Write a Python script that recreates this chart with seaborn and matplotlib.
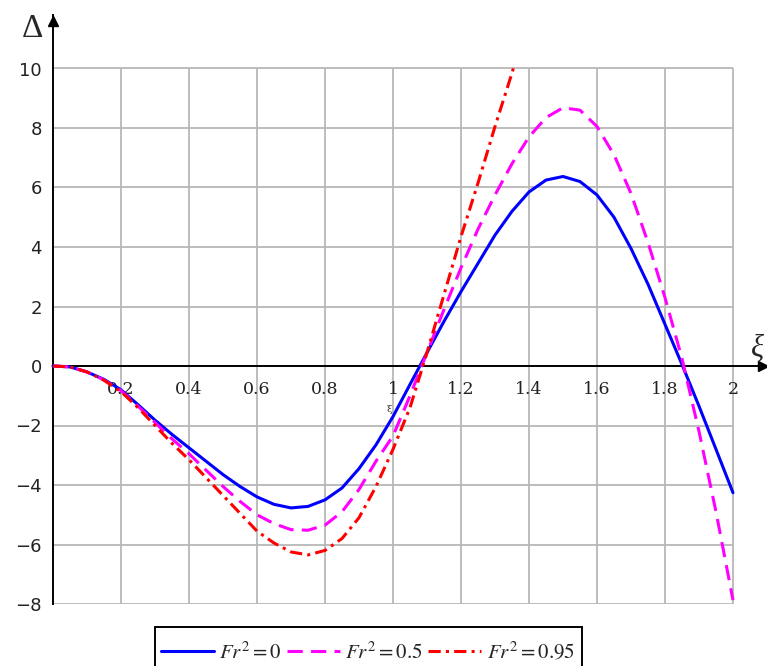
import numpy as np
import pandas as pd
import matplotlib
matplotlib.use("Agg")
import matplotlib.pyplot as plt
import matplotlib.patches as mpatches
import seaborn as sns

# Sampled curves Delta(xi) for three Froude numbers
xi = [0.00, 0.05, 0.10, 0.15, 0.20, 0.25, 0.30, 0.35, 0.40, 0.45,
      0.50, 0.55, 0.60, 0.65, 0.70, 0.75, 0.80, 0.85, 0.90, 0.95,
      1.00, 1.05, 1.10, 1.15, 1.20, 1.25, 1.30, 1.35, 1.40, 1.45,
      1.50, 1.55, 1.60, 1.65, 1.70, 1.75, 1.80, 1.85, 1.90, 1.95, 2.00]

delta_fr0 = [0.0, -0.03, -0.2, -0.45, -0.8, -1.3, -1.82, -2.3, -2.75, -3.2,
             -3.65, -4.05, -4.4, -4.65, -4.77, -4.72, -4.5, -4.1, -3.45, -2.65,
             -1.7, -0.62, 0.45, 1.5, 2.5, 3.45, 4.4, 5.2, 5.85, 6.25,
             6.37, 6.2, 5.75, 5.0, 3.95, 2.75, 1.4, 0.05, -1.35, -2.8, -4.26]

delta_fr05 = [0.0, -0.03, -0.2, -0.47, -0.83, -1.35, -1.9, -2.45, -2.95, -3.5,
              -4.05, -4.55, -5.0, -5.3, -5.5, -5.52, -5.35, -4.9, -4.15, -3.2,
              -2.35, -1.0, 0.45, 1.9, 3.3, 4.6, 5.75, 6.8, 7.7, 8.35,
              8.68, 8.6, 8.05, 7.1, 5.8, 4.15, 2.3, 0.25, -2.2, -4.9, -7.87]

xi_fr095 = [0.00, 0.05, 0.10, 0.15, 0.20, 0.25, 0.30, 0.35, 0.40, 0.45,
            0.50, 0.55, 0.60, 0.65, 0.70, 0.75, 0.80, 0.85, 0.90, 0.95,
            1.00, 1.05, 1.10, 1.15, 1.20, 1.25, 1.30, 1.35, 1.357]
delta_fr095 = [0.0, -0.03, -0.2, -0.48, -0.86, -1.4, -2.0, -2.6, -3.15, -3.75,
               -4.35, -4.95, -5.55, -5.95, -6.25, -6.35, -6.2, -5.8, -5.1, -4.05,
               -2.8, -1.4, 0.45, 2.4, 4.35, 6.15, 8.05, 9.85, 10.12]

labels = [r"$Fr^2=0$", r"$Fr^2=0.5$", r"$Fr^2=0.95$"]
x_ticks = [0.2, 0.4, 0.6, 0.8, 1.0, 1.2, 1.4, 1.6, 1.8, 2.0]
x_ticklabels = ["0.2", "0.4", "0.6", "0.8", "1", "1.2", "1.4", "1.6", "1.8", "2"]
y_ticks = [-8, -6, -4, -2, 0, 2, 4, 6, 8, 10]
y_ticklabels = ["\u22128", "\u22126", "\u22124", "\u22122", "0", "2", "4", "6", "8", "10"]

sns.set_style("white")
plt.rcParams["mathtext.fontset"] = "stix"

W, H = 767, 666
fig = plt.figure(figsize=(W / 100, H / 100), dpi=100)

# axes geometry in pixels: xi=0 at 53, 340 px per unit; Delta=0 at 366, 29.75 px per unit
x0, sx = 53.0, 340.0
y0, sy = 366.0, 29.75
xmax, ymin, ymax = 2.1, -8.0, 11.8
left = x0 / W
width = (xmax * sx) / W
bottom = (H - (y0 - ymin * sy)) / H
height = ((ymax - ymin) * sy) / H
ax = fig.add_axes([left, bottom, width, height])
ax.set_xlim(0, xmax)
ax.set_ylim(ymin, ymax)

grid_kw = dict(color="#b8b8b8", lw=1.3, zorder=0)
ax.vlines(x_ticks, -8, 10, **grid_kw)
ax.hlines(y_ticks, 0, 2, **grid_kw)

df0 = pd.DataFrame({"xi": xi, "delta": delta_fr0})
df05 = pd.DataFrame({"xi": xi, "delta": delta_fr05})
df095 = pd.DataFrame({"xi": xi_fr095, "delta": delta_fr095})

lw = 2.2
sns.lineplot(data=df0, x="xi", y="delta", ax=ax, color="#0000ff", lw=lw,
             label=labels[0], sort=False, zorder=3)
l2 = sns.lineplot(data=df05, x="xi", y="delta", ax=ax, color="#ff00ff", lw=lw,
                  label=labels[1], sort=False, zorder=3).lines[-1]
l2.set_dashes((5.0, 2.7))
l3 = sns.lineplot(data=df095, x="xi", y="delta", ax=ax, color="#ff0000", lw=lw,
                  label=labels[2], sort=False, zorder=4).lines[-1]
l3.set_dashes((4.0, 1.7, 1.0, 1.7))
for ln in ax.lines:
    ln.set_clip_on(False)
    ln.set_dash_capstyle("butt")
    ln.set_solid_joinstyle("round")

# axes through the origin with arrows
for s in ["top", "right"]:
    ax.spines[s].set_visible(False)
ax.spines["left"].set_position(("data", 0))
ax.spines["bottom"].set_position(("data", 0))
for s in ["left", "bottom"]:
    ax.spines[s].set_color("black")
    ax.spines[s].set_linewidth(1.4)
    ax.spines[s].set_zorder(2)
ax.plot(2.088, 0, marker=">", color="black", ms=7, clip_on=False, zorder=5)
ax.plot(0, ymax - 0.2, marker="^", color="black", ms=7, clip_on=False, zorder=5)

ax.set_xticks(x_ticks)
ax.set_xticklabels(x_ticklabels, family="DejaVu Serif", fontsize=12.5, color="#222222")
ax.set_yticks(y_ticks)
ax.set_yticklabels(y_ticklabels, family="DejaVu Sans", fontsize=13, color="#222222")
ax.tick_params(axis="x", direction="out", length=5, width=1.2, pad=6, colors="#222222")
ax.tick_params(axis="y", direction="out", length=6, width=1.2, pad=2, colors="#222222")
ax.set_xlabel("")
ax.set_ylabel("")

fig.text(32 / W, 1 - 29 / H, "\u0394", fontsize=24, family="Liberation Serif",
         ha="center", va="center")
fig.text(757 / W, 1 - 348 / H, "\u03be", fontsize=22, family="Liberation Serif",
         style="italic", ha="center", va="center")
ax.text(0.99, -1.45, "\u03be", fontsize=7, family="DejaVu Serif", ha="center",
        va="center", color="#333333")

# legend row with a square frame that runs past the bottom edge
ax.get_legend().remove()
handles = ax.lines[:3]
leg = fig.legend(handles, labels, loc="upper left",
                 bbox_to_anchor=(161 / W, 1 - 640 / H), ncol=3, fontsize=15,
                 frameon=False, handlelength=2.55,
                 handletextpad=0.25, columnspacing=0.25, borderpad=0,
                 borderaxespad=0)
frame = mpatches.Rectangle((155 / W, -0.05), (582 - 155) / W, 0.05 + (666 - 627) / H,
                           transform=fig.transFigure, fill=False, ec="black",
                           lw=1.4, clip_on=False)
fig.patches.append(frame)

fig.savefig("out.png", dpi=100)
